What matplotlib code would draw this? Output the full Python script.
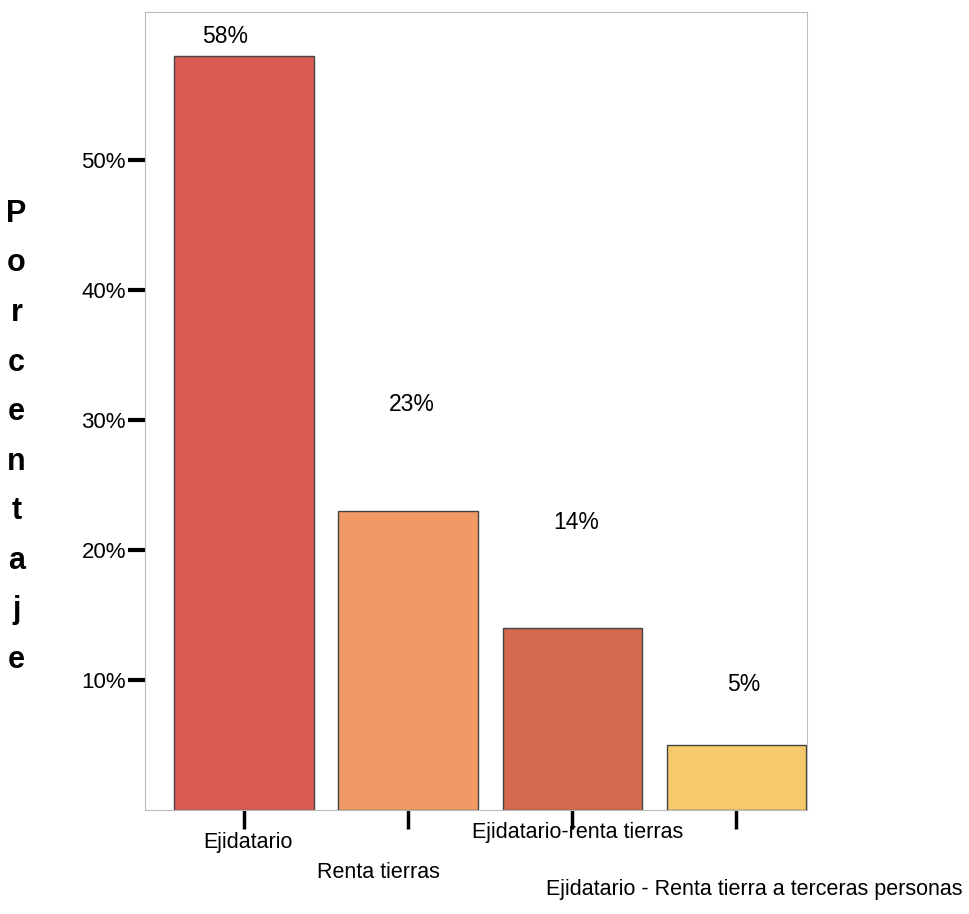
import matplotlib.pyplot as plt
from matplotlib.ticker import FuncFormatter

categorias = ["Ejidatario", "Renta tierras", "Ejidatario-renta tierras",
              "Ejidatario - Renta tierra a terceras personas"]
porcentajes = [58, 23, 14, 5]
colores = ["#DB5B53", "#F29A66", "#D3694F", "#F6C96B"]
y_ticks = [10, 20, 30, 40, 50]

# label placement (pixels) relative to bar top / tick position
off_valor = [(-19, 20), (4, 106), (4, 105), (7, 60)]
off_cat = [(4, -33), (-30, -63), (5, -23), (18, -80)]

fig = plt.figure(figsize=(9.7, 9.14), dpi=100)
ax = fig.add_axes([0.150, 0.114, 0.682, 0.873])

x = range(len(categorias))
bars = ax.bar(x, porcentajes, width=0.85, color=colores,
              edgecolor="#444444", linewidth=1.0)

ax.set_xlim(-0.6, 3.43)
ax.set_ylim(0, 61.4)

for sp in ax.spines.values():
    sp.set_color("#bbbbbb")
    sp.set_linewidth(0.8)

ax.set_yticks(y_ticks)
ax.yaxis.set_major_formatter(FuncFormatter(lambda v, p: "%d%%" % v))
ax.tick_params(axis="y", length=12, width=3, color="black", pad=2,
               labelsize=16)
for t in ax.get_yticklabels():
    t.set_family("Liberation Sans")

ax.set_xticks(list(x))
ax.set_xticklabels([])
ax.tick_params(axis="x", length=14, width=2.5, color="black")

for i, (v, (dx, dy)) in enumerate(zip(porcentajes, off_valor)):
    ax.annotate("%d%%" % v, xy=(i, v), xytext=(dx, dy),
                textcoords="offset pixels", ha="center", va="center",
                fontsize=16.5, family="Liberation Sans")

for i, (nombre, (dx, dy)) in enumerate(zip(categorias, off_cat)):
    ax.annotate(nombre, xy=(i, 0), xytext=(dx, dy),
                textcoords="offset pixels", ha="center", va="center",
                fontsize=15.5, family="Liberation Sans",
                annotation_clip=False)

fig.text(0.017, 0.522, "\n".join("Porcentaje"), ha="center", va="center",
         fontsize=22, fontweight="bold", family="Liberation Sans",
         linespacing=1.85)

fig.savefig("out.png", dpi=100)
